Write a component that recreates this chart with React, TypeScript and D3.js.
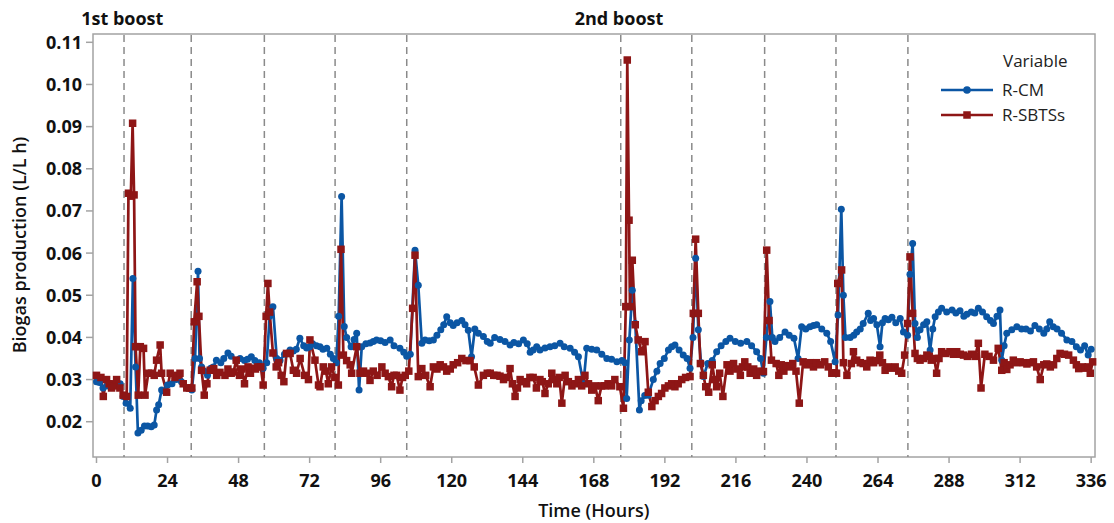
import React from "react";
import * as d3 from "d3";

const xTicks = [0, 24, 48, 72, 96, 120, 144, 168, 192, 216, 240, 264, 288, 312, 336];
const yTicks = [0.02, 0.03, 0.04, 0.05, 0.06, 0.07, 0.08, 0.09, 0.1, 0.11];
const boostHours = [9.3, 32, 56.7, 80.6, 104.8, 177.1, 201.1, 225.7, 249.8, 274.1];
const boostLabels = [
  { hour: 8.7, text: "1st boost" },
  { hour: 176.5, text: "2nd boost" },
];
const seriesNames = ["R-CM", "R-SBTSs"];

const rcm: [number, number][] = [
  [0, 0.0295], [1, 0.0293], [2.2, 0.028], [3.5, 0.0285], [4.5, 0.029], [5.5, 0.0288], [6.8, 0.0295], [8, 0.029],
  [9, 0.026], [10, 0.0244], [11.4, 0.0232], [12.3, 0.054], [13.2, 0.033], [14, 0.0173], [15.1, 0.018], [16.2, 0.019],
  [17.3, 0.019], [18.5, 0.0188], [19.5, 0.0192], [20.3, 0.0228], [21, 0.024], [22, 0.0275], [23, 0.0272], [24, 0.0287],
  [25.5, 0.029], [27, 0.03], [28.7, 0.0295], [30.5, 0.028], [32.2, 0.0275], [33.3, 0.035], [34.3, 0.0557], [34.8, 0.035],
  [35.5, 0.033], [36.5, 0.032], [37.5, 0.031], [38.6, 0.0327], [39.5, 0.033], [40.5, 0.0346], [42, 0.034], [43, 0.035],
  [44.4, 0.0363], [45.5, 0.0355], [47.2, 0.0346], [48.5, 0.035], [50, 0.0345], [51, 0.0348], [52.3, 0.0354], [53.5, 0.0345],
  [55, 0.034], [56.3, 0.0327], [57.5, 0.034], [58.5, 0.045], [59.6, 0.0473], [60.9, 0.035], [62, 0.0345], [63.5, 0.036],
  [65.4, 0.037], [66.5, 0.0368], [67.5, 0.0372], [68.7, 0.0398], [70, 0.038], [71, 0.0375], [72, 0.0378], [73, 0.0385],
  [74.3, 0.038], [75.5, 0.0378], [76.5, 0.0372], [77.8, 0.0374], [79, 0.036], [80, 0.035], [81, 0.034], [81.8, 0.045],
  [82.8, 0.0734], [83.7, 0.0426], [84.5, 0.04], [86, 0.0378], [87, 0.0395], [87.9, 0.041], [88.7, 0.0275], [89.6, 0.0378],
  [91, 0.0385], [92.4, 0.0387], [93.5, 0.039], [94.6, 0.0394], [96, 0.0392], [97.5, 0.0388], [99.2, 0.0394], [100.5, 0.038],
  [102.5, 0.0374], [103.8, 0.0365], [104.8, 0.0355], [106, 0.036], [107.6, 0.0607], [108.7, 0.0524], [109.9, 0.0386], [111, 0.0394],
  [112.4, 0.0392], [113.8, 0.0394], [115, 0.0405], [116.3, 0.0418], [117.3, 0.043], [118.3, 0.0449], [119.5, 0.0435], [120.5, 0.0428],
  [121.8, 0.0435], [123.4, 0.044], [124.5, 0.043], [125.6, 0.0417], [126.7, 0.0354], [127.8, 0.042], [129, 0.041], [130.7, 0.0402],
  [132, 0.039], [133, 0.0386], [134.5, 0.04], [136.3, 0.0395], [138, 0.039], [139.7, 0.0382], [141, 0.0388], [142.6, 0.0385],
  [144.2, 0.0394], [145.5, 0.0385], [146.5, 0.0365], [147.5, 0.037], [148.7, 0.0378], [149.8, 0.037], [151.5, 0.0375], [153.2, 0.0378],
  [154.8, 0.038], [156.6, 0.0386], [158, 0.0378], [160, 0.0374], [161.5, 0.0365], [162.8, 0.0354], [164.5, 0.029], [165.6, 0.0374],
  [167.3, 0.0372], [169, 0.037], [170.7, 0.036], [172.4, 0.035], [174, 0.0348], [175.8, 0.0342], [177.5, 0.0345], [178.5, 0.034],
  [179.1, 0.0255], [180, 0.0394], [181, 0.0512], [182, 0.0433], [183.4, 0.0228], [184, 0.025], [185.2, 0.0262], [186.4, 0.0263],
  [188.1, 0.03], [189.3, 0.032], [190.4, 0.0338], [191.8, 0.035], [193.2, 0.037], [194.3, 0.0378], [195.4, 0.0382], [196.8, 0.037],
  [198.2, 0.0358], [199.5, 0.035], [200.5, 0.0327], [201.5, 0.04], [202.4, 0.0588], [203.3, 0.0418], [204.2, 0.034], [205, 0.0307],
  [206.5, 0.0338], [208, 0.0345], [209.5, 0.0366], [211, 0.038], [212.6, 0.039], [214, 0.0398], [215.8, 0.039], [217.6, 0.0386],
  [219.7, 0.039], [221.3, 0.038], [223, 0.0366], [224.3, 0.035], [225.3, 0.0315], [226.3, 0.04], [227.5, 0.0485], [228.3, 0.04],
  [229.2, 0.039], [230.8, 0.04], [232.6, 0.0413], [234, 0.0405], [235.6, 0.0398], [237, 0.035], [238.2, 0.0425], [239.6, 0.042],
  [241, 0.0425], [242.2, 0.0428], [243.3, 0.043], [245, 0.042], [246.7, 0.041], [248, 0.039], [249.5, 0.0342], [250.5, 0.0453],
  [251.6, 0.0704], [252.3, 0.05], [253, 0.04], [254.6, 0.04], [255.8, 0.0405], [256.8, 0.0413], [258, 0.042], [259, 0.0433],
  [260.7, 0.0457], [261.5, 0.044], [262.5, 0.0445], [263.6, 0.043], [264.7, 0.0378], [265.5, 0.0435], [266.4, 0.0445], [267.5, 0.0442],
  [268.7, 0.0448], [270, 0.0435], [271.5, 0.0445], [272.6, 0.0413], [274, 0.0405], [274.8, 0.055], [275.7, 0.0623], [276.5, 0.0433],
  [277.3, 0.04], [278.2, 0.0418], [279.4, 0.043], [280.5, 0.0437], [281.6, 0.037], [282.5, 0.042], [283.3, 0.0449], [284.4, 0.046],
  [285.5, 0.0469], [287.2, 0.046], [289, 0.0465], [290.3, 0.0458], [291.7, 0.0463], [293, 0.045], [294, 0.0455], [295.5, 0.046],
  [296.7, 0.0458], [297.9, 0.0469], [299.3, 0.046], [300.7, 0.0449], [302, 0.044], [303, 0.0433], [304.2, 0.045], [305.2, 0.0465],
  [305.8, 0.0346], [306.6, 0.038], [307.5, 0.041], [309.2, 0.0418], [310.9, 0.0425], [312.5, 0.042], [314, 0.042], [315.5, 0.0415],
  [317, 0.0428], [318.5, 0.042], [320, 0.041], [321, 0.042], [322, 0.0437], [323.2, 0.0425], [324.5, 0.042], [326, 0.041],
  [327.8, 0.0394], [329.5, 0.039], [331, 0.0378], [332.4, 0.037], [333.8, 0.038], [335, 0.0358], [336, 0.0372],
];

const rsbts: [number, number][] = [
  [0, 0.031], [1.5, 0.0305], [2.3, 0.026], [3.4, 0.03], [4.3, 0.029], [5.1, 0.028], [6, 0.0285], [6.8, 0.03],
  [7.9, 0.028], [9, 0.0263], [10.2, 0.026], [10.8, 0.0742], [11.6, 0.0735], [12.2, 0.0908], [12.7, 0.0738], [13.2, 0.0378],
  [14.1, 0.0263], [14.8, 0.0378], [15.9, 0.0374], [16.4, 0.0263], [17.5, 0.0315], [18.6, 0.0315], [19.5, 0.031], [20.3, 0.0346],
  [21.5, 0.0382], [22, 0.0315], [23.7, 0.027], [24.9, 0.0315], [26.5, 0.0305], [27.3, 0.031], [28.2, 0.0315], [29.3, 0.029],
  [30.5, 0.028], [31.5, 0.028], [32.2, 0.028], [33, 0.0437], [34, 0.0532], [34.6, 0.045], [35.5, 0.0322], [36.4, 0.0263],
  [37.3, 0.029], [38.4, 0.0322], [39.6, 0.0326], [40.6, 0.031], [41.7, 0.0317], [43.4, 0.031], [44.4, 0.0325], [45.5, 0.0315],
  [46.3, 0.0318], [47.2, 0.0346], [48.3, 0.031], [49.2, 0.0325], [50, 0.029], [51.2, 0.033], [52, 0.0315], [52.8, 0.0327],
  [53.7, 0.0325], [54.5, 0.033], [55.5, 0.033], [56.3, 0.0287], [57.3, 0.045], [57.9, 0.0528], [58.5, 0.046], [59.6, 0.0363],
  [60.7, 0.033], [61.5, 0.034], [62.4, 0.031], [63.3, 0.0295], [64.2, 0.0362], [65.4, 0.0362], [66.5, 0.0322], [67.6, 0.0315],
  [68.8, 0.035], [70.3, 0.031], [71.6, 0.03], [72.1, 0.0394], [73.8, 0.0346], [75, 0.0287], [75.5, 0.0283], [76.6, 0.033],
  [77.5, 0.032], [78.3, 0.029], [79.4, 0.033], [80.5, 0.0305], [81.7, 0.0287], [82.6, 0.0609], [83.4, 0.0358], [84.5, 0.0345],
  [85.7, 0.0335], [86.2, 0.0315], [87.9, 0.0378], [89, 0.0315], [90.2, 0.032], [91.3, 0.0315], [92.4, 0.0298], [93.5, 0.032],
  [94.8, 0.031], [96.4, 0.033], [97.5, 0.0315], [98.6, 0.0307], [99.7, 0.0283], [100.5, 0.031], [101.4, 0.031], [102.5, 0.0275],
  [103.4, 0.0305], [104.3, 0.031], [105.5, 0.032], [106.8, 0.0469], [107.6, 0.0595], [108.7, 0.0307], [109.9, 0.0326], [111.2, 0.031],
  [112.7, 0.0283], [113.8, 0.033], [115, 0.0325], [116.1, 0.0335], [117.2, 0.033], [118.3, 0.032], [119.5, 0.0325], [120.5, 0.0335],
  [122, 0.034], [123.4, 0.035], [124.8, 0.0345], [126.2, 0.0345], [127.6, 0.033], [129, 0.0287], [130.7, 0.031], [132, 0.0315],
  [133, 0.0315], [134.2, 0.031], [135.3, 0.031], [136.3, 0.0308], [137.5, 0.03], [138.6, 0.0305], [139.7, 0.0326], [140.5, 0.029],
  [141.4, 0.026], [142.2, 0.028], [143.1, 0.03], [144.2, 0.0295], [145.3, 0.029], [146.4, 0.0305], [147.5, 0.0305], [148.6, 0.028],
  [149.8, 0.03], [150.6, 0.0295], [151.5, 0.0267], [152.6, 0.029], [153.8, 0.0315], [154.6, 0.03], [155.5, 0.029], [156.3, 0.0305],
  [157.2, 0.0244], [158.3, 0.031], [159.4, 0.0295], [160.6, 0.0285], [161.7, 0.029], [162.8, 0.03], [163.9, 0.0285], [165, 0.031],
  [166.2, 0.029], [167.3, 0.0275], [168.4, 0.0285], [169.5, 0.025], [170.6, 0.0285], [171.7, 0.0285], [172.8, 0.029], [174, 0.0285],
  [175.1, 0.03], [176.8, 0.0283], [178, 0.0232], [178.8, 0.0473], [179.3, 0.1058], [179.9, 0.0678], [180.2, 0.0473], [181, 0.0583],
  [182, 0.043], [183, 0.0394], [184.2, 0.0366], [185.3, 0.039], [186.4, 0.027], [187.6, 0.0236], [188.7, 0.025], [189.8, 0.026],
  [190.9, 0.0267], [192, 0.028], [193.2, 0.0285], [194.3, 0.029], [195.4, 0.0283], [196.5, 0.029], [197.7, 0.03], [199, 0.0305],
  [200.5, 0.0307], [201.6, 0.0457], [202.4, 0.0633], [203.3, 0.0457], [204, 0.0338], [205, 0.031], [205.8, 0.0283], [206.8, 0.027],
  [208, 0.0335], [208.8, 0.03], [209.5, 0.0283], [210.5, 0.0315], [211.6, 0.026], [213, 0.0335], [214, 0.032], [215.2, 0.0338],
  [216.3, 0.0325], [217.5, 0.031], [218.2, 0.033], [219, 0.0342], [220, 0.033], [220.8, 0.0315], [222, 0.0325], [223, 0.031],
  [224.2, 0.032], [225.3, 0.0319], [226.4, 0.0607], [227.2, 0.044], [228, 0.0346], [229.6, 0.0338], [230.5, 0.031], [231.3, 0.0335],
  [232.2, 0.032], [233, 0.0333], [234.2, 0.033], [235.2, 0.0338], [236.3, 0.032], [237.4, 0.0244], [238.7, 0.0342], [240, 0.0335],
  [241, 0.034], [242.2, 0.033], [243.3, 0.034], [244.6, 0.0335], [246, 0.0342], [247.2, 0.033], [248.4, 0.0315], [249.3, 0.0316],
  [250, 0.0315], [250.4, 0.0528], [251.7, 0.056], [252.3, 0.034], [253.5, 0.031], [255, 0.0338], [255.7, 0.0366], [256.8, 0.0346],
  [258, 0.034], [259, 0.0338], [260.2, 0.033], [261.3, 0.0346], [262.5, 0.034], [263.5, 0.0345], [264.6, 0.0358], [265.5, 0.034],
  [266.4, 0.0322], [267.5, 0.033], [268.6, 0.0327], [269.8, 0.033], [271, 0.032], [272, 0.0315], [273, 0.0358], [274, 0.0433],
  [274.8, 0.0591], [275.7, 0.0457], [276.5, 0.0362], [277.3, 0.035], [278.2, 0.0346], [279.4, 0.035], [280.5, 0.0358], [281.3, 0.0355],
  [282, 0.0346], [283, 0.035], [283.8, 0.0315], [284.6, 0.035], [285.5, 0.0366], [286.9, 0.0362], [288.3, 0.0366], [289.5, 0.036],
  [290.6, 0.0366], [291.8, 0.036], [292.9, 0.0358], [294.2, 0.0355], [295.6, 0.036], [296.8, 0.0355], [297.9, 0.0386], [298.8, 0.028],
  [300.1, 0.036], [301.5, 0.0355], [303, 0.0346], [304.6, 0.0374], [305.8, 0.0322], [306.6, 0.034], [307.5, 0.0324], [308.6, 0.0335],
  [309.7, 0.0346], [310.8, 0.034], [312, 0.0342], [313.1, 0.034], [314.3, 0.0337], [315.4, 0.034], [316.5, 0.0342], [317.6, 0.033],
  [318.8, 0.03], [320, 0.0335], [321, 0.0337], [322.2, 0.033], [323.3, 0.0335], [324.4, 0.035], [325.5, 0.0362], [327, 0.036],
  [328.4, 0.0358], [330, 0.0346], [331, 0.0335], [331.8, 0.0326], [333, 0.033], [334, 0.0327], [335, 0.033], [335.7, 0.0315],
  [336.5, 0.0342],
];

const BLUE = "#0B56A4";
const RED = "#8E1616";
const AXIS = "#a3a3a3";
const FONT = "'Open Sans', 'DejaVu Sans', sans-serif";

export default function App() {
  const W = 1114;
  const H = 523;
  const left = 93, right = 1095, top = 34, bottom = 457;
  const x = d3.scaleLinear().domain([-1.18, 337.3]).range([left, right]);
  const y = d3.scaleLinear().domain([0.01163, 0.11197]).range([bottom, top]);
  const line = d3.line<[number, number]>().x((d) => x(d[0])).y((d) => y(d[1]));
  const sq = 7.5;

  return (
    <svg width={W} height={H} style={{ position: "absolute", left: 0, top: 0, background: "#fff" }} fontFamily={FONT}>
      <rect x={0} y={0} width={W} height={H} fill="#fff" />
      <rect x={left} y={top} width={right - left} height={bottom - top} fill="none" stroke={AXIS} strokeWidth={1.5} />
      {boostHours.map((h, i) => (
        <line key={i} x1={x(h)} x2={x(h)} y1={top + 1} y2={bottom} stroke="#8a8a8a" strokeWidth={1.5} strokeDasharray="7,5" />
      ))}
      {boostLabels.map((b, i) => (
        <text key={i} x={x(b.hour)} y={25} textAnchor="middle" fontSize={18} fontWeight={700} fill="#111">{b.text}</text>
      ))}
      {yTicks.map((t) => (
        <g key={t}>
          <line x1={left - 7} x2={left} y1={y(t)} y2={y(t)} stroke={AXIS} strokeWidth={1.5} />
          <text x={left - 11} y={y(t)} dy="0.36em" textAnchor="end" fontSize={18} fontWeight={700} fill="#111">{d3.format(".2f")(t)}</text>
        </g>
      ))}
      {xTicks.map((t) => (
        <g key={t}>
          <line x1={x(t)} x2={x(t)} y1={bottom} y2={bottom + 6} stroke={AXIS} strokeWidth={1.5} />
          <text x={x(t)} y={487} textAnchor="middle" fontSize={18} fontWeight={700} fill="#111">{t}</text>
        </g>
      ))}
      <text x={x(168)} y={517} textAnchor="middle" fontSize={18} fontWeight={600} fill="#111">Time (Hours)</text>
      <text transform={`translate(26, 245) rotate(-90)`} textAnchor="middle" fontSize={18} fontWeight={600} fill="#111">Biogas production (L/L h)</text>

      <path d={line(rcm) || ""} fill="none" stroke={BLUE} strokeWidth={2.7} strokeLinejoin="round" />
      <path d={line(rsbts) || ""} fill="none" stroke={RED} strokeWidth={2.7} strokeLinejoin="round" />
      {rcm.map((d, i) => (
        <circle key={"c" + i} cx={x(d[0])} cy={y(d[1])} r={3.5} fill={BLUE} />
      ))}
      {rsbts.map((d, i) => (
        <rect key={"s" + i} x={x(d[0]) - sq / 2} y={y(d[1]) - sq / 2} width={sq} height={sq} fill={RED} />
      ))}

      <text x={1003} y={67} fontSize={17} fill="#222">Variable</text>
      <line x1={941} x2={993} y1={90} y2={90} stroke={BLUE} strokeWidth={2.7} />
      <circle cx={967} cy={90} r={3.8} fill={BLUE} />
      <text x={1002} y={96} fontSize={17} fill="#222">{seriesNames[0]}</text>
      <line x1={941} x2={993} y1={115} y2={115} stroke={RED} strokeWidth={2.7} />
      <rect x={967 - sq / 2} y={115 - sq / 2} width={sq} height={sq} fill={RED} />
      <text x={1002} y={121} fontSize={17} fill="#222">{seriesNames[1]}</text>
    </svg>
  );
}
